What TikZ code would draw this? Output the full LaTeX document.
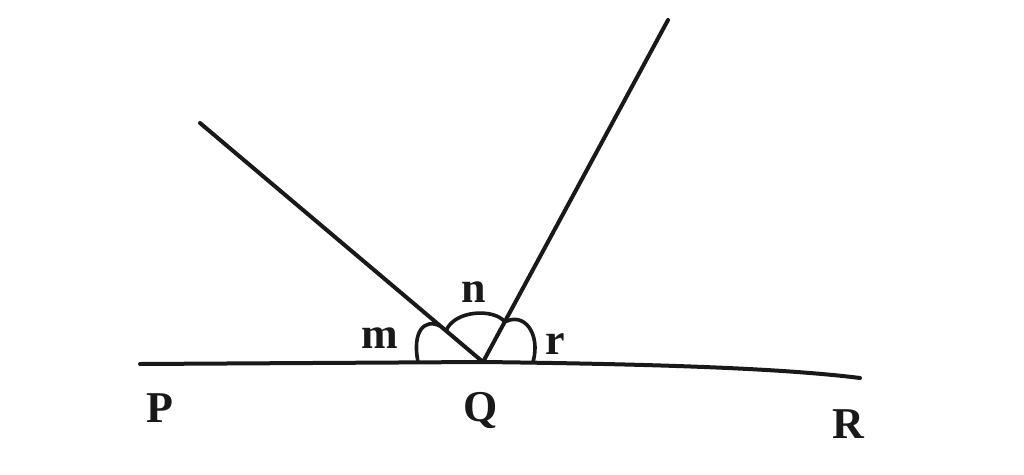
\documentclass[tikz,border=0pt]{standalone}
\usepackage{fontspec}
\setmainfont{Liberation Serif}
\begin{document}
\begin{tikzpicture}[x=1pt,y=-1pt,
  ray/.style={line width=4pt,color=black!90,line cap=round},
  arcmark/.style={line width=3.6pt,color=black!90},
  lbl/.style={font=\fontsize{44}{50}\selectfont\bfseries,text=black!90,inner sep=0pt}]
\useasboundingbox[fill=white] (0,0) rectangle (1024,474);
\coordinate (Pend) at (140,364);
\coordinate (Q) at (483,362);
\coordinate (Rend) at (860,378);
\coordinate (A) at (200,123);
\coordinate (B) at (668,20);
\draw[ray] (Pend) -- (Q) .. controls (650,364) and (780,368) .. (Rend);
\draw[ray] (A) -- (Q);
\draw[ray] (B) -- (Q);
\draw[arcmark] (418,362) .. controls (412,332) and (424,318) .. (440,326);
\draw[arcmark] (446,331) .. controls (454,310) and (494,308) .. (505,322);
\draw[arcmark] (503,323) .. controls (524,310) and (541,334) .. (533,362);
\node[lbl] (m) at (380,338) {m};
\node[lbl] (n) at (474,292) {n};
\node[lbl] (r) at (555,344) {r};
\node[lbl] (P) at (160,408) {P};
\node[lbl] (Qlbl) at (481,410) {Q};
\node[lbl] (R) at (848,424) {R};
\end{tikzpicture}
\end{document}
